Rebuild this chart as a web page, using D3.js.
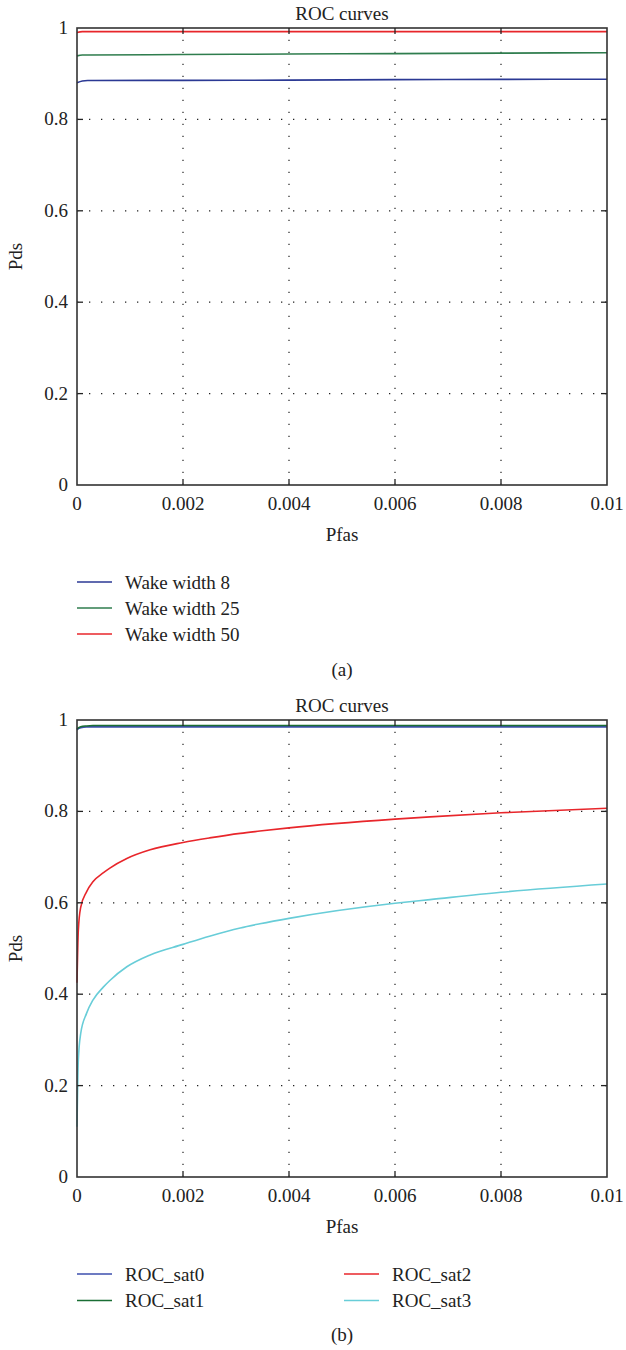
<!DOCTYPE html>
<html>
<head>
<meta charset="utf-8">
<script src="https://cdn.jsdelivr.net/npm/d3@7"></script>
<style>
  body { margin: 0; background: #fff; }
  text { font-family: "Liberation Serif", "DejaVu Serif", serif; fill: #222; }
</style>
</head>
<body>
<svg id="chart" width="626" height="1350"></svg>
<script>
// ---- panel (a) data ----
const pfasA = [0, 0.0001, 0.0002, 0.002, 0.004, 0.006, 0.008, 0.01];
const wake8 = [0.880, 0.884, 0.885, 0.8855, 0.886, 0.887, 0.8875, 0.888];
const wake25 = [0.939, 0.941, 0.941, 0.942, 0.943, 0.944, 0.945, 0.946];
const wake50 = [0.990, 0.992, 0.992, 0.992, 0.992, 0.992, 0.992, 0.992];
const namesA = ["Wake width 8", "Wake width 25", "Wake width 50"];

// ---- panel (b) data ----
const pfasB = [0, 0.000025, 0.00007, 0.00018, 0.0003, 0.0005, 0.00062, 0.00094, 0.00138,
               0.002, 0.0025, 0.00308, 0.00345, 0.004, 0.006, 0.00666, 0.008, 0.01];
const sat0 = [0.978, 0.981, 0.983, 0.985, 0.985, 0.985, 0.985, 0.985, 0.985,
              0.985, 0.985, 0.985, 0.985, 0.985, 0.985, 0.985, 0.985, 0.985];
const sat1 = [0.980, 0.983, 0.985, 0.987, 0.988, 0.988, 0.988, 0.988, 0.988,
              0.988, 0.988, 0.988, 0.988, 0.988, 0.988, 0.988, 0.988, 0.988];
const sat2 = [0.425, 0.54, 0.59, 0.624, 0.646, 0.666, 0.676, 0.697, 0.716,
              0.732, 0.742, 0.752, 0.757, 0.764, 0.783, 0.788, 0.797, 0.807];
const sat3 = [0.11, 0.256, 0.314, 0.358, 0.387, 0.416, 0.43, 0.46, 0.486,
              0.509, 0.527, 0.545, 0.554, 0.566, 0.599, 0.607, 0.623, 0.641];
const namesB = ["ROC_sat0", "ROC_sat1", "ROC_sat2", "ROC_sat3"];

const xTicks = [0, 0.002, 0.004, 0.006, 0.008, 0.01];
const yTicks = [0, 0.2, 0.4, 0.6, 0.8, 1];

const svg = d3.select("#chart");
const left = 77, right = 607;
const fs = 19;

function drawPanel(top, bottom, xs, series, colors) {
    const x = d3.scaleLinear().domain([0, 0.01]).range([left, right]);
    const y = d3.scaleLinear().domain([0, 1]).range([bottom, top]);
    const g = svg.append("g");

    // dotted grid
    g.selectAll(".gx").data(xTicks.slice(1, -1)).enter().append("line")
        .attr("x1", d => x(d)).attr("x2", d => x(d))
        .attr("y1", bottom).attr("y2", top)
        .attr("stroke", "#222").attr("stroke-width", 1.2)
        .attr("stroke-dasharray", "1.3,10.7");
    g.selectAll(".gy").data(yTicks.slice(1, -1)).enter().append("line")
        .attr("y1", d => y(d)).attr("y2", d => y(d))
        .attr("x1", left).attr("x2", right)
        .attr("stroke", "#222").attr("stroke-width", 1.2)
        .attr("stroke-dasharray", "1.3,10.7");

    // curves
    const line = d3.line()
        .x((d, i) => x(xs[i]))
        .y(d => y(d))
        .curve(d3.curveMonotoneX);
    series.forEach(function(s, i) {
        g.append("path").attr("d", line(s))
            .attr("fill", "none")
            .attr("stroke", colors[i])
            .attr("stroke-width", 1.6);
    });

    // inward ticks on all four sides
    const tk = 6;
    xTicks.slice(1, -1).forEach(function(d) {
        g.append("line").attr("x1", x(d)).attr("x2", x(d)).attr("y1", bottom).attr("y2", bottom - tk)
            .attr("stroke", "#222").attr("stroke-width", 1.3);
        g.append("line").attr("x1", x(d)).attr("x2", x(d)).attr("y1", top).attr("y2", top + tk)
            .attr("stroke", "#222").attr("stroke-width", 1.3);
    });
    yTicks.slice(1, -1).forEach(function(d) {
        g.append("line").attr("x1", left).attr("x2", left + tk).attr("y1", y(d)).attr("y2", y(d))
            .attr("stroke", "#222").attr("stroke-width", 1.3);
        g.append("line").attr("x1", right).attr("x2", right - tk).attr("y1", y(d)).attr("y2", y(d))
            .attr("stroke", "#222").attr("stroke-width", 1.3);
    });

    // frame
    g.append("rect").attr("x", left).attr("y", top)
        .attr("width", right - left).attr("height", bottom - top)
        .attr("fill", "none").attr("stroke", "#333").attr("stroke-width", 1.6);

    // tick labels
    g.selectAll(".xl").data(xTicks).enter().append("text")
        .attr("x", d => x(d)).attr("y", bottom + 25)
        .attr("text-anchor", "middle").attr("font-size", fs)
        .text(d => d === 0 ? "0" : d3.format("")(d));
    g.selectAll(".yl").data(yTicks).enter().append("text")
        .attr("x", left - 9).attr("y", d => y(d) + 6)
        .attr("text-anchor", "end").attr("font-size", fs)
        .text(d => d3.format("")(d));

    // title + axis labels
    g.append("text").attr("x", (left + right) / 2).attr("y", top - 8)
        .attr("text-anchor", "middle").attr("font-size", fs).text("ROC curves");
    g.append("text").attr("x", (left + right) / 2).attr("y", bottom + 56)
        .attr("text-anchor", "middle").attr("font-size", fs).text("Pfas");
    g.append("text")
        .attr("transform", "translate(22," + ((top + bottom) / 2) + ") rotate(-90)")
        .attr("text-anchor", "middle").attr("font-size", fs).text("Pds");
}

function drawLegend(items, colors, cols, y0, dy, caption, capY) {
    items.forEach(function(name, i) {
        const col = Math.floor(i / cols.rows);
        const row = i % cols.rows;
        const lx = cols.x[col];
        const ly = y0 + row * dy;
        svg.append("line").attr("x1", lx).attr("x2", lx + 35)
            .attr("y1", ly).attr("y2", ly)
            .attr("stroke", colors[i]).attr("stroke-width", 1.6);
        svg.append("text").attr("x", lx + 48).attr("y", ly + 6.5)
            .attr("font-size", fs).text(name);
    });
    svg.append("text").attr("x", (left + right) / 2).attr("y", capY)
        .attr("text-anchor", "middle").attr("font-size", fs).text(caption);
}

const colorsA = ["#2b3994", "#2f7d4e", "#e8262b"];
const colorsB = ["#3c4fae", "#1a6e34", "#e8262b", "#68cdd8"];

drawPanel(28, 485, pfasA, [wake8, wake25, wake50], colorsA);
drawLegend(namesA, colorsA, {rows: 3, x: [77]}, 582, 26, "(a)", 676);

drawPanel(720, 1177, pfasB, [sat0, sat1, sat2, sat3], colorsB);
drawLegend(namesB, colorsB, {rows: 2, x: [77, 344]}, 1274, 26.5, "(b)", 1341);
</script>
</body>
</html>
